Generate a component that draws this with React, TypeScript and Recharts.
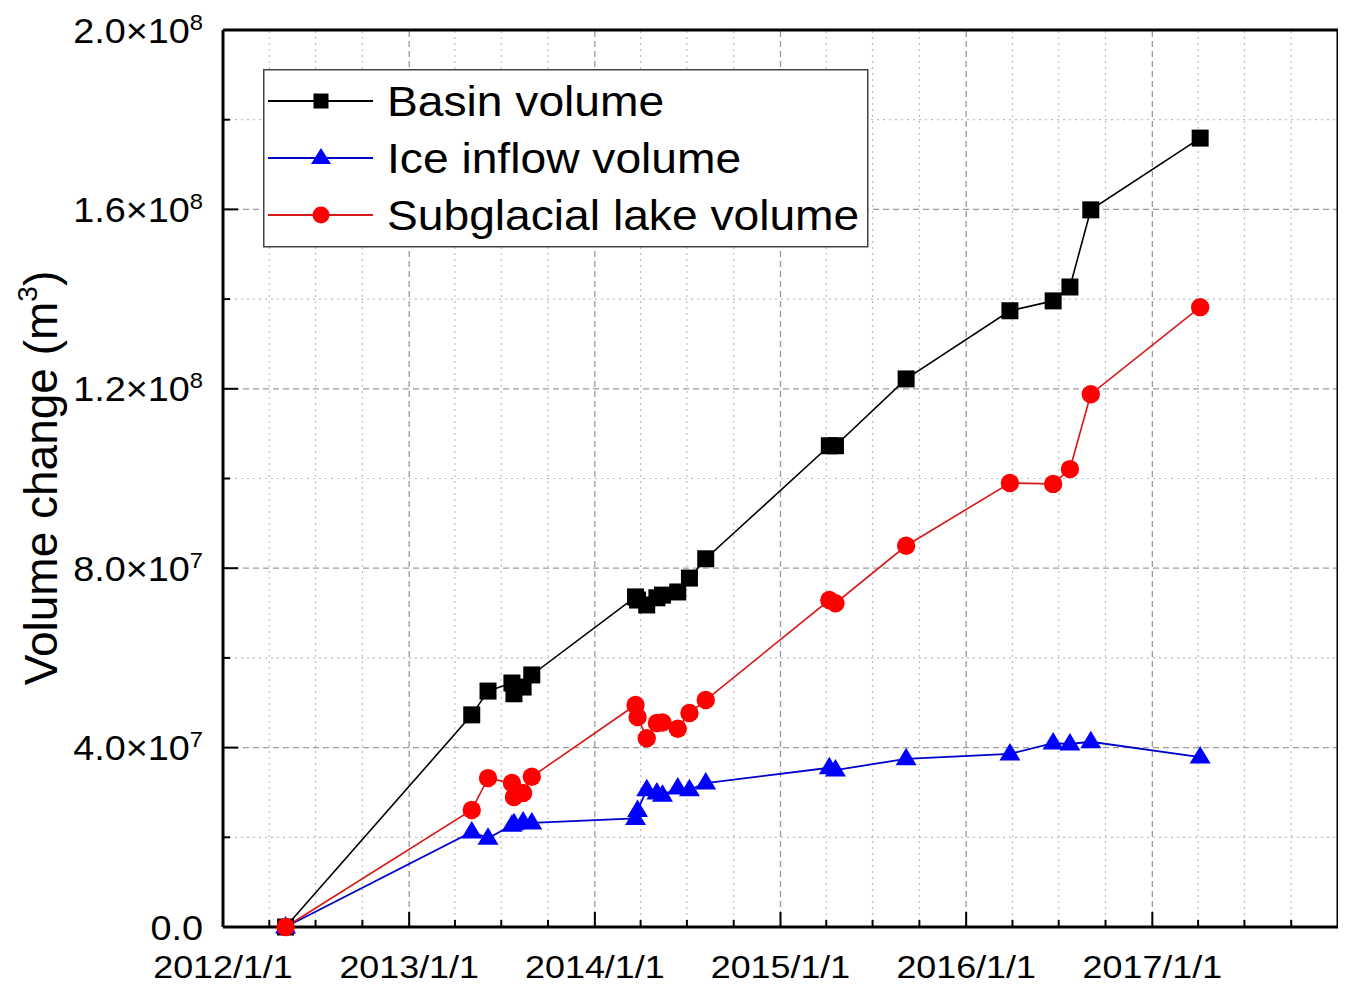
import React from "react";
import { LineChart, Line, XAxis, YAxis, ReferenceLine, Legend } from "recharts";

// ---------- data ----------
const dates = [
  "2012-05-03", "2013-05-04", "2013-06-05", "2013-07-22", "2013-07-26", "2013-08-13", "2013-08-30",
  "2014-03-22", "2014-03-26", "2014-04-13", "2014-05-03", "2014-05-14", "2014-06-13", "2014-07-06",
  "2014-08-07", "2015-04-07", "2015-04-19", "2015-09-05", "2016-03-27", "2016-06-20", "2016-07-23",
  "2016-09-02", "2017-04-05",
];
const basinVolume = [
  0, 4.73e7, 5.26e7, 5.44e7, 5.2e7, 5.35e7, 5.62e7,
  7.36e7, 7.29e7, 7.18e7, 7.34e7, 7.4e7, 7.47e7, 7.78e7,
  8.21e7, 1.073e8, 1.073e8, 1.222e8, 1.374e8, 1.396e8, 1.427e8,
  1.599e8, 1.759e8,
];
const iceInflowVolume = [
  0, 2.12e7, 1.98e7, 2.27e7, 2.3e7, 2.34e7, 2.32e7,
  2.42e7, 2.6e7, 3.06e7, 2.99e7, 2.94e7, 3.1e7, 3.06e7,
  3.21e7, 3.55e7, 3.5e7, 3.75e7, 3.86e7, 4.1e7, 4.08e7,
  4.13e7, 3.79e7,
];
const lakeVolume = [
  0, 2.61e7, 3.32e7, 3.21e7, 2.9e7, 2.99e7, 3.35e7,
  4.95e7, 4.68e7, 4.21e7, 4.55e7, 4.56e7, 4.42e7, 4.77e7,
  5.06e7, 7.29e7, 7.22e7, 8.5e7, 9.9e7, 9.88e7, 1.021e8,
  1.188e8, 1.382e8,
];

const majorXDates = ["2012-01-01", "2013-01-01", "2014-01-01", "2015-01-01", "2016-01-01", "2017-01-01", "2018-01-01"];
const majorXLabels = ["2012/1/1", "2013/1/1", "2014/1/1", "2015/1/1", "2016/1/1", "2017/1/1", ""];
const minorYears = ["2012", "2013", "2014", "2015", "2016", "2017"];
const minorMonthDays = ["04-01", "07-01", "10-01"];

const yMajorValues = [0, 4e7, 8e7, 1.2e8, 1.6e8, 2e8];
const yMajorMantissa = ["0.0", "4.0", "8.0", "1.2", "1.6", "2.0"];
const yMajorExponent = ["", "7", "7", "8", "8", "8"];
const yMinorValues = [2e7, 6e7, 1e8, 1.4e8, 1.8e8];

const seriesNames = ["Basin volume", "Ice inflow volume", "Subglacial lake volume"];

// ---------- derived ----------
const toTime = (s: string) => Date.parse(s + "T00:00:00Z");
const data = dates.map((d, i) => ({
  t: toTime(d),
  basin: basinVolume[i],
  ice: iceInflowVolume[i],
  lake: lakeVolume[i],
}));
const majorXTimes = majorXDates.map(toTime);
const minorXTimes: number[] = [];
minorYears.forEach((y) => minorMonthDays.forEach((md) => minorXTimes.push(toTime(`${y}-${md}`))));
const allXTicks = [...majorXTimes, ...minorXTimes].sort((a, b) => a - b);
const allYTicks = [...yMajorValues, ...yMinorValues].sort((a, b) => a - b);

const FONT = "'Liberation Sans', Arial, Helvetica, sans-serif";

const XTick = (props: any) => {
  const { x, y, payload } = props;
  const idx = majorXTimes.indexOf(payload.value);
  const major = idx >= 0;
  return (
    <g>
      <line x1={x} x2={x} y1={y} y2={y - (major ? 15 : 7)} stroke="#000" strokeWidth={2} />
      {major && majorXLabels[idx] ? (
        <text
          transform={`translate(${x},${y + 51}) scale(1.12,1)`}
          textAnchor="middle"
          fontSize={32}
          fontFamily={FONT}
          fill="#000"
        >
          {majorXLabels[idx]}
        </text>
      ) : null}
    </g>
  );
};

const YTick = (props: any) => {
  const { x, y, payload } = props;
  const idx = yMajorValues.indexOf(payload.value);
  const major = idx >= 0;
  return (
    <g>
      <line x1={x} x2={x + (major ? 15 : 7)} y1={y} y2={y} stroke="#000" strokeWidth={2} />
      {major ? (
        <text
          transform={`translate(${x - 20},${y + 12.5}) scale(1.08,1)`}
          textAnchor="end"
          fontSize={35}
          fontFamily={FONT}
          fill="#000"
        >
          {yMajorExponent[idx] ? (
            <>
              <tspan>{yMajorMantissa[idx] + "\u00d710"}</tspan>
              <tspan fontSize={22} dy={-13}>
                {yMajorExponent[idx]}
              </tspan>
            </>
          ) : (
            <tspan>{yMajorMantissa[idx]}</tspan>
          )}
        </text>
      ) : null}
    </g>
  );
};

const SquareDot = (props: any) => {
  const { cx, cy, index } = props;
  if (cx == null || cy == null) return <g key={`s${index}`} />;
  return <rect key={`s${index}`} x={cx - 8.5} y={cy - 8.5} width={17} height={17} fill="#000" />;
};
const TriDot = (props: any) => {
  const { cx, cy, index } = props;
  if (cx == null || cy == null) return <g key={`t${index}`} />;
  return (
    <polygon
      key={`t${index}`}
      points={`${cx},${cy - 11} ${cx + 10.5},${cy + 6.5} ${cx - 10.5},${cy + 6.5}`}
      fill="#0000ff"
    />
  );
};
const CircleDot = (props: any) => {
  const { cx, cy, index } = props;
  if (cx == null || cy == null) return <g key={`c${index}`} />;
  return <circle key={`c${index}`} cx={cx} cy={cy} r={9.2} fill="#ff0000" />;
};

const LegendBox = () => {
  const rows = [
    { name: seriesNames[0], color: "#000", y: 32, kind: "square" },
    { name: seriesNames[1], color: "#0000cc", y: 89, kind: "tri" },
    { name: seriesNames[2], color: "#d81818", y: 146, kind: "circle" },
  ];
  return (
    <svg width={607} height={180} style={{ display: "block" }}>
      <rect x={0.75} y={0.75} width={604} height={177} fill="#fff" stroke="#444" strokeWidth={1.5} />
      {rows.map((r) => (
        <g key={r.name}>
          <line x1={5} x2={110} y1={r.y} y2={r.y} stroke={r.color} strokeWidth={1.8} />
          {r.kind === "square" && <rect x={58 - 7.5} y={r.y - 7.5} width={15} height={15} fill="#000" />}
          {r.kind === "tri" && (
            <polygon points={`58,${r.y - 10} ${58 + 10},${r.y + 6} ${58 - 10},${r.y + 6}`} fill="#0000ff" />
          )}
          {r.kind === "circle" && <circle cx={58} cy={r.y} r={8.5} fill="#ff0000" />}
          <text
            transform={`translate(124,${r.y + 15}) scale(1.1,1)`}
            fontSize={42}
            fontFamily={FONT}
            fill="#000"
          >
            {r.name}
          </text>
        </g>
      ))}
    </svg>
  );
};

export default function App() {
  const domainX: [number, number] = [majorXTimes[0], majorXTimes[majorXTimes.length - 1]];
  return (
    <div style={{ width: 1338, height: 981, background: "#fff", position: "relative" }}>
      <LineChart width={1338} height={981} data={data} margin={{ top: 22, right: 8, bottom: 0, left: 0 }}>
        {minorXTimes.map((t) => (
          <ReferenceLine key={`mx${t}`} x={t} stroke="#bdbdbd" strokeWidth={1.2} strokeDasharray="2 4" />
        ))}
        {majorXTimes.slice(1, -1).map((t) => (
          <ReferenceLine key={`Mx${t}`} x={t} stroke="#9a9a9a" strokeWidth={1.3} strokeDasharray="6 4" />
        ))}
        {yMinorValues.map((v) => (
          <ReferenceLine key={`my${v}`} y={v} stroke="#bdbdbd" strokeWidth={1.2} strokeDasharray="2 4" />
        ))}
        {yMajorValues.slice(1, -1).map((v) => (
          <ReferenceLine key={`My${v}`} y={v} stroke="#9a9a9a" strokeWidth={1.3} strokeDasharray="6 4" />
        ))}
        <ReferenceLine y={yMajorValues[yMajorValues.length - 1]} stroke="#000" strokeWidth={3} />
        <ReferenceLine x={majorXTimes[majorXTimes.length - 1]} stroke="#000" strokeWidth={3} />
        <XAxis
          dataKey="t"
          type="number"
          domain={domainX}
          ticks={allXTicks}
          interval={0}
          height={62}
          tickSize={0}
          tickMargin={0}
          tickLine={false}
          axisLine={{ stroke: "#000", strokeWidth: 3 }}
          tick={(p: any) => <XTick {...p} />}
          allowDataOverflow
        />
        <YAxis
          type="number"
          domain={[0, 2e8]}
          ticks={allYTicks}
          interval={0}
          width={215}
          tickSize={0}
          tickMargin={0}
          tickLine={false}
          axisLine={{ stroke: "#000", strokeWidth: 3 }}
          tick={(p: any) => <YTick {...p} />}
          label={{
            content: () => (
              <text
                transform="translate(49,470) rotate(-90)"
                textAnchor="middle"
                fontSize={46}
                fontFamily={FONT}
                fill="#000"
              >
                <tspan>Volume change (m</tspan>
                <tspan fontSize={28} dy={-20}>3</tspan>
                <tspan dy={20}>)</tspan>
              </text>
            ),
          }}
        />
        <Legend
          layout="horizontal"
          verticalAlign="middle"
          align="center"
          wrapperStyle={{ left: 255, top: 61, width: 607, height: 180 }}
          content={() => <LegendBox />}
        />
        <Line
          dataKey="basin"
          name={seriesNames[0]}
          stroke="#000"
          strokeWidth={1.6}
          dot={(p: any) => <SquareDot {...p} key={`s${p.index}`} />}
          activeDot={false}
          isAnimationActive={false}
        />
        <Line
          dataKey="ice"
          name={seriesNames[1]}
          stroke="#0000cc"
          strokeWidth={1.8}
          dot={(p: any) => <TriDot {...p} key={`t${p.index}`} />}
          activeDot={false}
          isAnimationActive={false}
        />
        <Line
          dataKey="lake"
          name={seriesNames[2]}
          stroke="#d81818"
          strokeWidth={1.6}
          dot={(p: any) => <CircleDot {...p} key={`c${p.index}`} />}
          activeDot={false}
          isAnimationActive={false}
        />
      </LineChart>
    </div>
  );
}
